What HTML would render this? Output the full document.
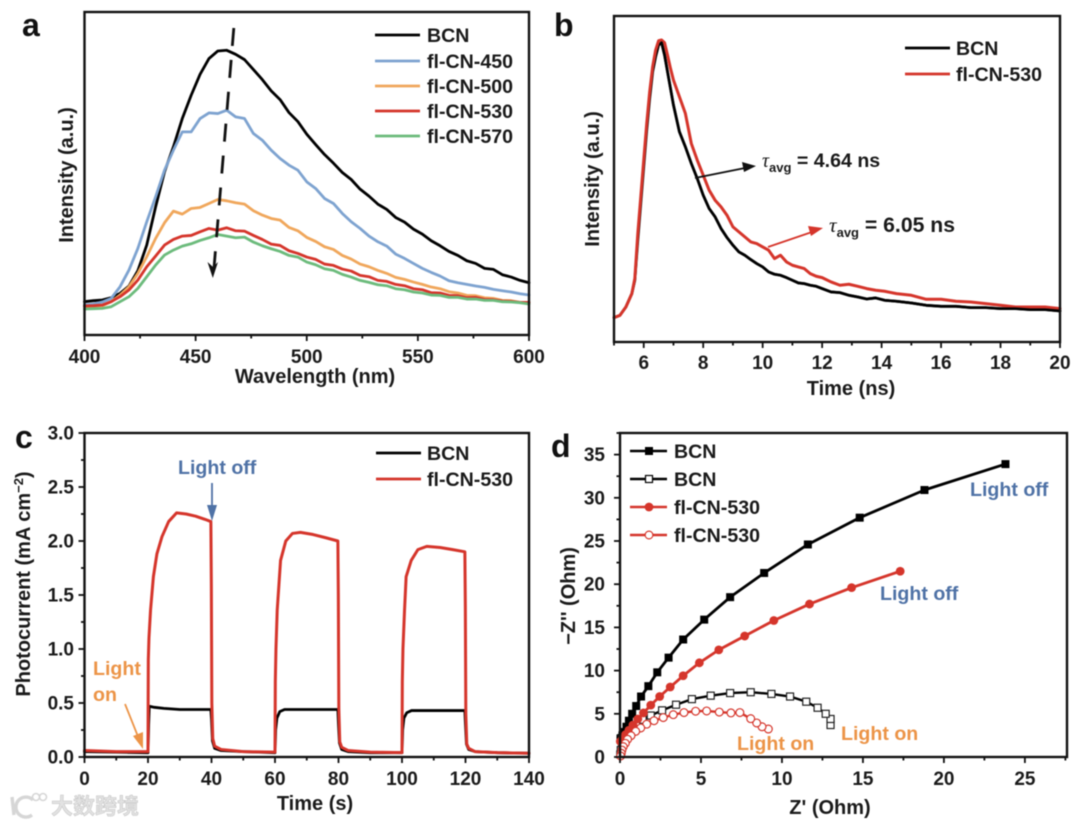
<!DOCTYPE html>
<html lang="en">
<head>
<meta charset="utf-8">
<title>Photophysical characterisation panels</title>
<style>
html,body{margin:0;padding:0;background:#fff;}
body{width:1080px;height:826px;overflow:hidden;}
svg{display:block;filter:blur(0.55px);}
text{font-family:"Liberation Sans","Noto Sans CJK SC",sans-serif;font-weight:bold;fill:#1a1a1a;}
.tick{font-size:19px;}
.axis-title{font-size:20px;}
.legend{font-size:19.6px;}
.letter{font-size:32px;fill:#111;}
.off{fill:#4f72a6;font-size:19.6px;}
.on{fill:#ec9447;font-size:19.6px;}
</style>
</head>
<body>
<svg id="fig" xmlns="http://www.w3.org/2000/svg" width="1080" height="826" viewBox="0 0 1080 826">

  <!-- panel letters -->
  <text class="letter" x="22" y="36">a</text>
  <text class="letter" x="554" y="36">b</text>
  <text class="letter" x="15" y="448">c</text>
  <text class="letter" x="551" y="457">d</text>

  <!-- axis titles -->
  <text class="axis-title" text-anchor="middle" x="315" y="383">Wavelength (nm)</text>
  <text class="axis-title" text-anchor="middle" transform="translate(73,175) rotate(-90)">Intensity (a.u.)</text>
  <text class="axis-title" text-anchor="middle" x="851" y="395">Time (ns)</text>
  <text class="axis-title" text-anchor="middle" transform="translate(599,179) rotate(-90)">Intensity (a.u.)</text>
  <text class="axis-title" text-anchor="middle" x="315" y="810">Time (s)</text>
  <text class="axis-title" text-anchor="middle" transform="translate(30,584) rotate(-90)">Photocurrent (mA cm<tspan dy="-7" font-size="13">−2</tspan><tspan dy="7">)</tspan></text>
  <text class="axis-title" text-anchor="middle" x="830" y="814">Z' (Ohm)</text>
  <text class="axis-title" text-anchor="middle" transform="translate(575,596) rotate(-90)">−Z'' (Ohm)</text>

  <g id="plots"></g>

  <!-- panel a legend -->
  <g>
    <line x1="375" x2="420" y1="35" y2="35" stroke="#000" stroke-width="2.8"/>
    <text class="legend" x="427" y="42">BCN</text>
    <line x1="375" x2="420" y1="61" y2="61" stroke="#7ea3d0" stroke-width="2.8"/>
    <text class="legend" x="427" y="68">fl-CN-450</text>
    <line x1="375" x2="420" y1="86" y2="86" stroke="#f0a75c" stroke-width="2.8"/>
    <text class="legend" x="427" y="93">fl-CN-500</text>
    <line x1="375" x2="420" y1="111" y2="111" stroke="#d5352b" stroke-width="2.8"/>
    <text class="legend" x="427" y="118">fl-CN-530</text>
    <line x1="375" x2="420" y1="136" y2="136" stroke="#6cbb7c" stroke-width="2.8"/>
    <text class="legend" x="427" y="143">fl-CN-570</text>
  </g>
  <!-- panel a trend arrow -->
  <g>
    <line x1="233.8" y1="28" x2="214" y2="268" stroke="#111" stroke-width="2.8" stroke-dasharray="18 14"/>
    <polygon points="212.8,278 207.5,262 213,267 218,262" fill="#111"/>
  </g>

  <!-- panel b legend + annotations -->
  <g>
    <line x1="905" x2="950" y1="48" y2="48" stroke="#000" stroke-width="2.8"/>
    <text class="legend" x="956" y="55">BCN</text>
    <line x1="905" x2="950" y1="74" y2="74" stroke="#d5352b" stroke-width="2.8"/>
    <text class="legend" x="956" y="81">fl-CN-530</text>
  </g>
  <g>
    <line x1="695" y1="178" x2="745" y2="168" stroke="#111" stroke-width="1.8"/>
    <polygon points="756,166 742,162 744,172" fill="#111"/>
    <text x="762" y="167" font-size="19.6"><tspan font-family="Liberation Serif" font-style="italic" font-weight="normal">τ</tspan><tspan font-size="13" dy="5">avg</tspan><tspan dy="-5"> = 4.64 ns</tspan></text>
    <line x1="768" y1="247" x2="812" y2="232" stroke="#d5352b" stroke-width="1.8"/>
    <polygon points="823,228 808,226 811,236" fill="#d5352b"/>
    <text x="829" y="232" font-size="21.2"><tspan font-family="Liberation Serif" font-style="italic" font-weight="normal">τ</tspan><tspan font-size="13" dy="5">avg</tspan><tspan dy="-5"> = 6.05 ns</tspan></text>
  </g>

  <!-- panel c legend + annotations -->
  <g>
    <line x1="376" x2="421" y1="453" y2="453" stroke="#000" stroke-width="2.8"/>
    <text class="legend" x="427" y="460">BCN</text>
    <line x1="376" x2="421" y1="479" y2="479" stroke="#d5352b" stroke-width="2.8"/>
    <text class="legend" x="427" y="486">fl-CN-530</text>
  </g>
  <g>
    <text class="off" x="178" y="474">Light off</text>
    <line x1="212" y1="483" x2="212" y2="508" stroke="#4f72a6" stroke-width="1.8"/>
    <polygon points="212,521 207,505 217,505" fill="#4f72a6"/>
    <text class="on" x="93" y="675">Light</text>
    <text class="on" x="93" y="701">on</text>
    <line x1="125" y1="704" x2="139" y2="739" stroke="#ec9447" stroke-width="1.8"/>
    <polygon points="143,749 133,736 143,732" fill="#ec9447"/>
  </g>

  <!-- panel d annotations -->
  <g>
    <text class="off" x="970" y="496">Light off</text>
    <text class="off" x="880" y="600">Light off</text>
    <text class="on" x="841" y="740">Light on</text>
    <text class="on" x="737" y="750">Light on</text>
  </g>

  <!-- watermark -->
  <g>
    <g fill="none" stroke="#d6d6d6" stroke-width="3.4">
      <path d="M12 797 L14 815"/>
      <path d="M33 800 A10 10 0 1 0 32 815"/>
      <circle cx="36" cy="797" r="3.5" stroke-width="1.6"/>
      <circle cx="43" cy="797" r="3.5" stroke-width="1.6"/>
    </g>
    <text x="51" y="814" font-size="22" style="fill:#e2e2e2;stroke:#c4c4c4;stroke-width:0.5px;font-family:'Liberation Sans','Noto Sans CJK SC',sans-serif;font-weight:bold">大数跨境</text>
  </g>
</svg>

<script>
/* ---------- panel a data ---------- */
const aWavelengths = [400,404,408,412,416,420,424,428,432,436,440,444,448,452,456,460,464,468,472,476,480,484,488,492,496,500,504,508,512,516,520,524,528,532,536,540,544,548,552,556,560,564,568,572,576,580,584,588,592,596,600];
const aBCN = [100,103,105,112,125,147,193,270,385,490,565,650,720,783,830,853,855,843,827,797,767,733,707,668,641,603,572,542,516,488,467,438,417,393,377,353,339,318,303,283,268,251,239,223,215,200,197,181,174,164,157];
const aCN450 = [90,93,99,110,145,195,260,340,415,495,555,610,610,650,667,665,675,655,650,605,585,555,530,510,495,460,440,410,395,365,340,320,297,280,267,243,230,215,200,188,177,163,157,152,147,143,137,133,129,124,120];
const aCN500 = [85,86,88,100,120,145,185,235,290,337,372,363,380,383,395,407,403,397,393,373,360,350,345,323,313,293,281,265,257,239,228,213,205,194,185,173,167,159,152,144,139,130,126,119,118,112,110,104,103,98,97];
const aCN530 = [87,88,90,100,115,135,165,205,237,270,287,297,299,310,320,315,322,313,312,299,287,273,269,253,245,234,227,213,209,198,192,179,175,164,161,152,148,139,136,127,126,119,118,112,113,107,106,102,101,98,98];
const aCN570 = [78,79,80,85,100,115,140,175,210,240,255,267,274,284,292,302,297,292,294,279,268,259,251,239,234,219,211,199,194,182,174,164,158,151,148,139,136,129,126,120,119,113,113,108,108,104,104,100,99,97,93];
const aXTicks = [400,450,500,550,600];
const aXMinor = [425,475,525,575];

/* ---------- panel b data ---------- */
const bTimes = [5,5.2,5.4,5.6,5.7,5.8,5.9,6,6.1,6.2,6.3,6.4,6.5,6.6,6.7,6.8,6.9,7,7.2,7.4,7.6,7.8,8,8.2,8.4,8.6,8.8,9,9.2,9.4,9.6,9.8,10,10.2,10.4,10.6,10.8,11,11.2,11.4,11.6,11.8,12,12.3,12.6,12.9,13.2,13.5,13.8,14.1,14.5,15,15.5,16,16.5,17,17.5,18,18.5,19,19.5,20];
const bBCN = [73,80,105,145,185,305,415,525,635,730,810,855,890,897,860,810,760,710,630,585,535,490,440,400,375,340,313,290,270,260,247,235,225,210,203,200,193,185,177,175,170,167,160,150,148,140,135,129,132,125,122,117,110,107,107,103,103,100,100,97,97,93];
const bCN530 = [73,80,105,145,190,325,435,545,655,750,825,875,903,905,897,860,820,785,735,685,595,545,500,455,425,405,380,345,330,315,300,295,285,275,250,260,240,230,225,220,205,197,193,180,170,173,167,160,155,152,145,140,128,128,122,120,115,110,105,105,105,100];
const bXTicks = [6,8,10,12,14,16,18,20];
const bXMinor = [5,7,9,11,13,15,17,19];

/* ---------- panel c data ---------- */
const cRedTimes = [0,10,19.9,20,20.05,20.1,20.3,20.8,21.7,22.8,24.4,26.5,29,32,35,38,39.8,39.95,40.1,40.4,41,43,50,59.9,60,60.1,60.3,60.7,61.75,63.4,65.5,68,72,76,79.8,79.95,80.1,80.4,81,83,90,99.9,100,100.1,100.3,100.8,101.3,102.9,105,107.8,112,116,119.8,119.95,120.1,120.4,121,123,130,140];
const cRedValues = [.06,.05,.05,.05,.5,.9,1.1,1.36,1.67,1.88,2.04,2.18,2.26,2.25,2.23,2.2,2.18,1.6,.5,.17,.1,.07,.05,.045,.045,.7,1.0,1.36,1.82,2.0,2.07,2.08,2.06,2.03,2,1.5,.45,.14,.09,.06,.045,.04,.04,.7,1.0,1.36,1.67,1.82,1.92,1.95,1.94,1.92,1.9,1.4,.4,.12,.08,.05,.04,.035];
const cBlackTimes = [0,19.8,20,20.2,20.4,22,25,30,39.8,40,40.3,41,43,50,60,60.2,60.6,61.5,63,70,79.8,80,80.3,81,83,90,100,100.2,100.6,101.5,103,110,119.8,120,120.3,121,123,130,140];
const cBlackValues = [.05,.04,.04,.3,.47,.46,.45,.44,.44,.35,.15,.08,.06,.05,.04,.25,.36,.42,.44,.44,.44,.3,.13,.07,.05,.04,.04,.25,.36,.41,.43,.43,.43,.3,.12,.07,.05,.04,.035];
const cXTicks = [0,20,40,60,80,100,120,140];
const cXMinor = [10,30,50,70,90,110,130];
const cYTicks = ['0.0','0.5','1.0','1.5','2.0','2.5','3.0'];
const cYMinor = [.25,.75,1.25,1.75,2.25,2.75];

/* ---------- panel d data ---------- */
const dBcnOffX = [23.8,18.8,14.8,11.6,8.9,6.8,5.2,3.9,3.0,2.3,1.75,1.3,1.0,.75,.55,.4,.25,.15,.08,.03];
const dBcnOffY = [33.9,30.9,27.7,24.6,21.3,18.5,15.9,13.6,11.5,9.8,8.2,7.0,5.9,5.0,4.2,3.5,2.9,2.5,2.2,2.0];
const dBcnOnX = [13.0,13.0,12.7,12.2,11.5,10.5,9.35,8.07,6.8,5.6,4.44,3.46,2.6,1.9,1.4,1.0,.7,.45,.25,.12,.05,.02];
const dBcnOnY = [3.7,4.4,5.0,5.7,6.4,7.0,7.3,7.5,7.4,7.1,6.7,6.05,5.4,4.8,4.3,3.7,3.1,2.5,1.9,1.3,.8,.3];
const dCnOffX = [17.3,14.3,11.7,9.5,7.7,6.1,4.9,3.9,3.1,2.45,1.9,1.45,1.1,.8,.55,.35,.15,.02];
const dCnOffY = [21.5,19.6,17.7,15.8,14.0,12.4,10.9,9.4,8.1,7.0,6.0,5.1,4.4,3.7,3.1,2.6,2.1,1.8];
const dCnOnX = [9.16,8.77,8.44,8.07,7.4,6.85,6.13,5.35,4.67,3.95,3.29,2.67,2.1,1.65,1.28,.97,.68,.47,.33,.2,.12,.08,.04];
const dCnOnY = [3.24,3.5,3.94,4.44,5.14,5.1,5.2,5.33,5.3,5.14,4.9,4.56,4.2,3.8,3.36,2.97,2.47,2.05,1.58,1.2,.8,.43,.12];
const dXTicks = [0,5,10,15,20,25];
const dXMinor = [2.5,7.5,12.5,17.5,22.5,27.5];
const dYTicks = [0,5,10,15,20,25,30,35];
const dYMinor = [2.5,7.5,12.5,17.5,22.5,27.5,32.5,37.5];
const dLegendLabels = ['BCN','BCN','fl-CN-530','fl-CN-530'];

/* ---------- drawing helpers ---------- */
const NS = 'http://www.w3.org/2000/svg';
const layer = document.getElementById('plots');
function make(tag, attrs, parent) {
  const el = document.createElementNS(NS, tag);
  for (const k in attrs) el.setAttribute(k, attrs[k]);
  (parent || layer).appendChild(el);
  return el;
}
function scale(d0, d1, r0, r1) {
  return function (v) { return r0 + (v - d0) / (d1 - d0) * (r1 - r0); };
}
function frame(x0, y0, x1, y1, parent) {
  const el = make('rect', {x:x0, y:y0, width:x1-x0, height:y1-y0, fill:'none', stroke:'#111', 'stroke-width':2.4}, parent);
  
  
}
function xTicks(vals, labels, xf, yBase, len, labelY, parent) {
  vals.forEach(function (v, i) {
    const t = make('line', {x1:xf(v), x2:xf(v), y1:yBase, y2:yBase+len, stroke:'#111', 'stroke-width':1.8}, parent);
    
    
    if (labels) {
      const s = make('text', {x:xf(v), y:labelY, 'text-anchor':'middle', 'class':'tick'}, parent);
      s.textContent = labels[i];
      
      
    }
  });
}
function yTicks(vals, labels, yf, xBase, len, labelX, parent) {
  vals.forEach(function (v, i) {
    const t = make('line', {y1:yf(v), y2:yf(v), x1:xBase, x2:xBase-len, stroke:'#111', 'stroke-width':1.8}, parent);
    
    
    if (labels) {
      const s = make('text', {x:labelX, y:yf(v)+6.5, 'text-anchor':'end', 'class':'tick'}, parent);
      s.textContent = labels[i];
      
      
    }
  });
}
function series(xs, ys, xf, yf, color, width, name, parent) {
  const pts = xs.map(function (x, i) { return xf(x).toFixed(2) + ',' + yf(ys[i]).toFixed(2); }).join(' ');
  const el = make('polyline', {points:pts, fill:'none', stroke:color, 'stroke-width':width, 'stroke-linejoin':'round', 'stroke-linecap':'round'}, parent);
  
  
  return el;
}
function marker(kind, cx, cy, color, parent) {
  let el;
  if (kind === 'square') el = make('rect', {x:cx-4, y:cy-4, width:8, height:8, fill:color}, parent);
  if (kind === 'open-square') el = make('rect', {x:cx-3.5, y:cy-3.5, width:7, height:7, fill:'#fff', stroke:color, 'stroke-width':1.2}, parent);
  if (kind === 'circle') el = make('circle', {cx:cx, cy:cy, r:4.4, fill:color}, parent);
  if (kind === 'open-circle') el = make('circle', {cx:cx, cy:cy, r:3.9, fill:'#fff', stroke:color, 'stroke-width':1.2}, parent);
  
  
}
function group(name) {
  const g = make('g', {});
  
  
  return g;
}

/* ---------- panel a ---------- */
(function () {
  const g = group('panel-a-chart');
  const x = scale(400, 600, 84.5, 529);
  const y = scale(0, 970, 335, 12);
  series(aWavelengths, aBCN, x, y, '#000', 2.8, 'series-bcn', g);
  series(aWavelengths, aCN450, x, y, '#7ea3d0', 2.8, 'series-fl-cn-450', g);
  series(aWavelengths, aCN500, x, y, '#f0a75c', 2.8, 'series-fl-cn-500', g);
  series(aWavelengths, aCN530, x, y, '#d5352b', 2.8, 'series-fl-cn-530', g);
  series(aWavelengths, aCN570, x, y, '#6cbb7c', 2.8, 'series-fl-cn-570', g);
  xTicks(aXTicks, aXTicks, x, 335, 6, 363, g);
  xTicks(aXMinor, null, x, 335, 3.5, 0, g);
  frame(84.5, 12, 529, 335, g);
})();

/* ---------- panel b ---------- */
(function () {
  const g = group('panel-b-chart');
  const x = scale(5, 20, 614, 1060);
  const y = scale(0, 977, 342, 16);
  series(bTimes, bBCN, x, y, '#000', 2.8, 'series-bcn', g);
  series(bTimes, bCN530, x, y, '#d5352b', 3, 'series-fl-cn-530', g);
  series(bTimes.slice(13), bBCN.slice(13), x, y, '#000', 2.6, 'series-bcn-decay', g);
  xTicks(bXTicks, bXTicks, x, 342, 6, 369, g);
  xTicks(bXMinor, null, x, 342, 3.5, 0, g);
  frame(614, 16, 1060, 342, g);
})();

/* ---------- panel c ---------- */
(function () {
  const g = group('panel-c-chart');
  const x = scale(0, 140, 84.5, 529);
  const y = scale(0, 3, 757, 433);
  series(cBlackTimes, cBlackValues, x, y, '#000', 2.8, 'series-bcn', g);
  series(cRedTimes, cRedValues, x, y, '#d5352b', 3, 'series-fl-cn-530', g);
  xTicks(cXTicks, cXTicks, x, 757, 6, 785, g);
  xTicks(cXMinor, null, x, 757, 3.5, 0, g);
  yTicks(cYTicks.map(Number), cYTicks, y, 84.5, 6, 74, g);
  yTicks(cYMinor, null, y, 84.5, 3.5, 0, g);
  frame(84.5, 433, 529, 757, g);
})();

/* ---------- panel d ---------- */
(function () {
  const g = group('panel-d-chart');
  const x = scale(0, 27.6, 620, 1067);
  const y = scale(0, 37.5, 757, 433);
  series(dBcnOffX, dBcnOffY, x, y, '#000', 2.8, 'series-bcn-light-off', g);
  dBcnOffX.forEach(function (v, i) { marker('square', x(v), y(dBcnOffY[i]), '#000', g); });
  series(dBcnOnX, dBcnOnY, x, y, '#000', 2.4, 'series-bcn-light-on', g);
  dBcnOnX.forEach(function (v, i) { marker('open-square', x(v), y(dBcnOnY[i]), '#222', g); });
  series(dCnOffX, dCnOffY, x, y, '#d5352b', 2.8, 'series-fl-cn-530-light-off', g);
  dCnOffX.forEach(function (v, i) { marker('circle', x(v), y(dCnOffY[i]), '#d5352b', g); });
  series(dCnOnX, dCnOnY, x, y, '#d5352b', 2.4, 'series-fl-cn-530-light-on', g);
  dCnOnX.forEach(function (v, i) { marker('open-circle', x(v), y(dCnOnY[i]), '#d5352b', g); });
  xTicks(dXTicks, dXTicks, x, 757, 6, 785, g);
  xTicks(dXMinor, null, x, 757, 3.5, 0, g);
  yTicks(dYTicks, dYTicks, y, 620, 6, 605, g);
  yTicks(dYMinor, null, y, 620, 3.5, 0, g);
  frame(620, 433, 1067, 757, g);

  const kinds = ['square', 'open-square', 'circle', 'open-circle'];
  const colors = ['#000', '#000', '#d5352b', '#d5352b'];
  const legendRows = [451, 479, 507, 535];
  dLegendLabels.forEach(function (label, i) {
    const l = make('line', {x1:630, x2:667, y1:legendRows[i], y2:legendRows[i], stroke:colors[i], 'stroke-width':2.6}, g);
    
    
    marker(kinds[i], 649, legendRows[i], colors[i], g);
    const t = make('text', {x:674, y:legendRows[i]+7, 'class':'legend'}, g);
    t.textContent = label;
    
    
  });
})();
</script>
</body>
</html>
